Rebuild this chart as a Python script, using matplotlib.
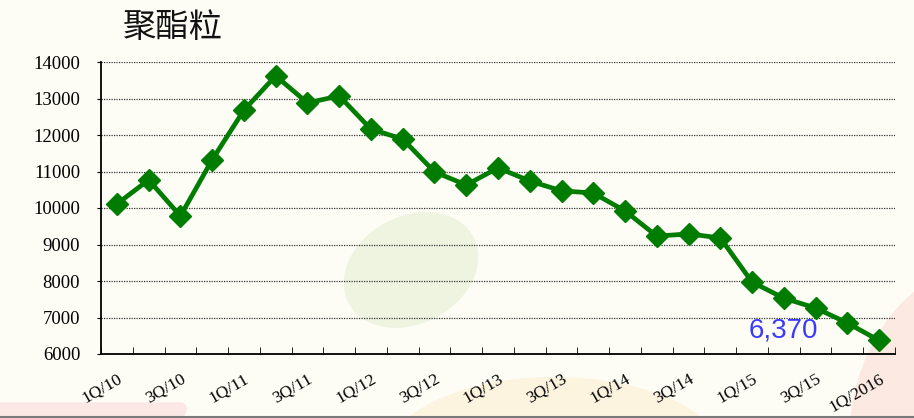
import matplotlib
matplotlib.use("Agg")
import matplotlib.pyplot as plt
from matplotlib.patches import Ellipse, FancyBboxPatch

quarters = ["1Q/10", "2Q/10", "3Q/10", "4Q/10",
            "1Q/11", "2Q/11", "3Q/11", "4Q/11",
            "1Q/12", "2Q/12", "3Q/12", "4Q/12",
            "1Q/13", "2Q/13", "3Q/13", "4Q/13",
            "1Q/14", "2Q/14", "3Q/14", "4Q/14",
            "1Q/15", "2Q/15", "3Q/15", "4Q/15",
            "1Q/2016"]
prices = [10110, 10770, 9780, 11320,
          12680, 13620, 12880, 13070,
          12160, 11890, 10990, 10630,
          11100, 10740, 10470, 10410,
          9920, 9230, 9290, 9180,
          7970, 7530, 7260, 6850,
          6370]
y_ticks = [6000, 7000, 8000, 9000, 10000, 11000, 12000, 13000, 14000]
last_label = "6,370"

bg = "#fdfdf6"
fig = plt.figure(figsize=(9.14, 4.18), dpi=100, facecolor=bg)

# background decorations, placed in pixel-ish units (inches*100)
W, H = 914.0, 418.0
inch = fig.dpi_scale_trans
def px(xp, yp):
    return (xp / 100.0, (H - yp) / 100.0)

deco = [
    Ellipse(px(411, 270), 1.40, 1.06, angle=28, transform=inch, color="#eef4e0"),
    Ellipse(px(1000, 440), 3.0, 3.6, transform=inch, color="#fbe9e2"),
    Ellipse(px(555, 460), 3.4, 1.65, transform=inch, color="#fdf4e0"),
    FancyBboxPatch(px(-10, 416), 1.96, 0.13, boxstyle="round,pad=0,rounding_size=0.06",
                   transform=inch, color="#fbe8e4"),
]
for p in deco:
    p.set_zorder(-2)
    fig.patches.append(p)
fig.lines.append(plt.Line2D([0, 1], [1 - 416.5 / H, 1 - 416.5 / H],
                            transform=fig.transFigure, color="#7a7a7a", lw=1.5, zorder=-1))

ax = fig.add_axes([101 / W, 1 - 354 / H, 794 / W, 292 / H])
ax.set_facecolor("none")

x = list(range(len(quarters)))
ax.plot(x, prices, color="#007c00", lw=3.4, marker="D", ms=11,
        solid_joinstyle="miter", zorder=3)

ax.set_xlim(-0.5, len(quarters) - 0.5)
ax.set_ylim(6000, 14000)
ax.set_yticks(y_ticks)
ax.set_yticklabels([str(v) for v in y_ticks], family="Liberation Serif", fontsize=13.5)
ax.yaxis.grid(True, linestyle=(0, (1, 1)), color="#333333", lw=0.9)
ax.set_axisbelow(True)

ax.set_xticks(x[::2])
ax.set_xticklabels(quarters[::2], family="Liberation Serif", fontsize=12.5,
                   rotation=30, ha="right", va="top", rotation_mode="anchor")
ax.set_xticks([i - 0.5 for i in range(len(quarters) + 1)], minor=True)
ax.tick_params(axis="x", which="major", length=0, pad=12)
ax.tick_params(axis="x", which="minor", direction="in", length=5, color="black")
ax.tick_params(axis="y", length=3, pad=12)

for side in ["top", "right"]:
    ax.spines[side].set_visible(False)
ax.spines["left"].set_linewidth(1.3)
ax.spines["bottom"].set_linewidth(1.3)

ax.text(21, 6440, last_label, color="#3a3aff", fontsize=20,
        family="Liberation Sans", ha="center", va="baseline", zorder=4)

fig.text(123 / W, 1 - 28 / H, "聚酯粒", family=["Noto Sans CJK SC", "DejaVu Sans"],
         fontsize=24, va="center", ha="left", color="#111111")

fig.savefig("out.png", dpi=100, facecolor=bg)
